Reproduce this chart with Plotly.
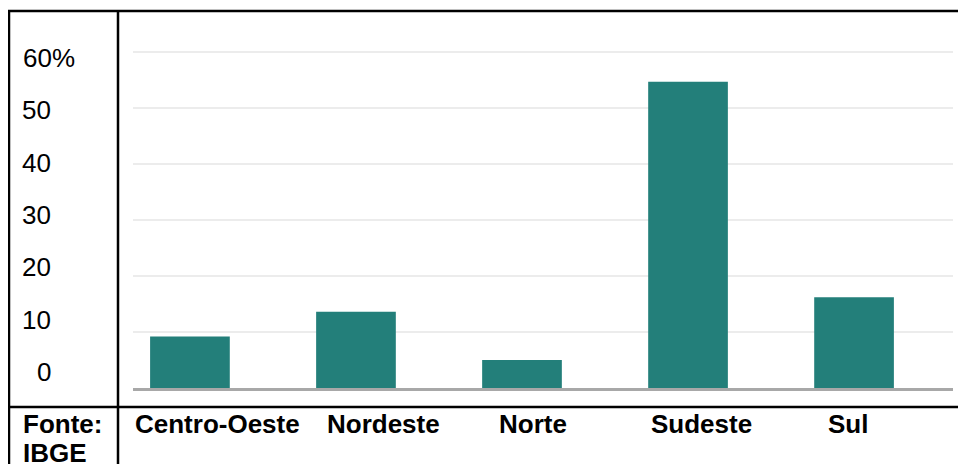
import plotly.graph_objects as go

# ---- data ----
categories = ["Centro-Oeste", "Nordeste", "Norte", "Sudeste", "Sul"]
values = [9.2, 13.6, 5.0, 54.7, 16.2]
y_tick_values = [0, 10, 20, 30, 40, 50, 60]
y_tick_labels = ["0", "10", "20", "30", "40", "50", "60%"]
source_lines = ["Fonte:", "IBGE"]

# ---- layout helpers (window pixels -> paper); page body has an 8px margin ----
OFF = 8
W, H = 966 - OFF, 464 - OFF
def px(x):
    return (x - OFF) / W
def py(y):
    return 1 - (y - OFF) / H

PL, PR = 133, 953          # plot area left/right
PB = 388                   # baseline pixel (value 0)
UNIT = 5.6                 # px per percentage point
YMAX = 64
PT = PB - YMAX * UNIT

BAR_COLOR = "#237f7a"
FONT = "Liberation Sans, Arial, sans-serif"

fig = go.Figure(
    go.Bar(
        x=categories,
        y=values,
        width=0.48,
        marker=dict(color=BAR_COLOR, line=dict(width=0)),
        hoverinfo="x+y",
    )
)

fig.update_layout(
    width=W,
    height=H,
    margin=dict(l=0, r=0, t=0, b=0),
    paper_bgcolor="white",
    plot_bgcolor="white",
    showlegend=False,
    font=dict(family=FONT, size=26, color="black"),
    xaxis=dict(
        domain=[px(PL), px(PR)],
        range=[-0.343, 4.596],
        showticklabels=False,
        ticks="",
        showgrid=False,
        zeroline=False,
        showline=True,
        linecolor="#a8a8a8",
        linewidth=2.5,
        fixedrange=True,
    ),
    yaxis=dict(
        domain=[py(PB), py(PT)],
        range=[0, YMAX],
        tickvals=[v for v in y_tick_values if v > 0],
        showticklabels=False,
        ticks="",
        showgrid=True,
        gridcolor="#ececec",
        gridwidth=2,
        zeroline=False,
        showline=False,
        fixedrange=True,
    ),
)

annotations = []
# y labels column (its own linear scale: 0 -> 372px, 60 -> 58px)
lab_y0, lab_y60 = 372, 58
for v, t in zip(y_tick_values, y_tick_labels):
    ypix = lab_y0 + (lab_y60 - lab_y0) * v / 60
    if t.endswith("%"):
        annotations.append(dict(x=px(21), y=py(ypix), xref="paper", yref="paper",
                                text=t, showarrow=False, xanchor="left", yanchor="middle",
                                font=dict(size=26)))
    else:
        annotations.append(dict(x=px(53), y=py(ypix), xref="paper", yref="paper",
                                text=t, showarrow=False, xanchor="right", yanchor="middle",
                                font=dict(size=26)))

# category labels row
label_centers_px = [217, 383, 533, 701, 848]
for cx, c in zip(label_centers_px, categories):
    annotations.append(dict(x=px(cx), y=py(424), xref="paper", yref="paper",
                            text="<b>%s</b>" % c, showarrow=False,
                            xanchor="center", yanchor="middle", font=dict(size=26)))

# source
for i, s in enumerate(source_lines):
    annotations.append(dict(x=px(21), y=py(424 + 29 * i), xref="paper", yref="paper",
                            text="<b>%s</b>" % s, showarrow=False,
                            xanchor="left", yanchor="middle", font=dict(size=26)))

fig.update_layout(annotations=annotations)

# table borders
line = dict(color="black", width=2.5)
shapes = [
    dict(type="line", xref="paper", yref="paper", x0=px(8), x1=px(980), y0=py(11), y1=py(11), line=line),
    dict(type="line", xref="paper", yref="paper", x0=px(9), x1=px(9), y0=py(11), y1=py(480), line=line),
    dict(type="line", xref="paper", yref="paper", x0=px(118), x1=px(118), y0=py(11), y1=py(480), line=line),
    dict(type="line", xref="paper", yref="paper", x0=px(8), x1=px(980), y0=py(407), y1=py(407), line=line),
]
fig.update_layout(shapes=shapes)

fig.write_html("out.html")
